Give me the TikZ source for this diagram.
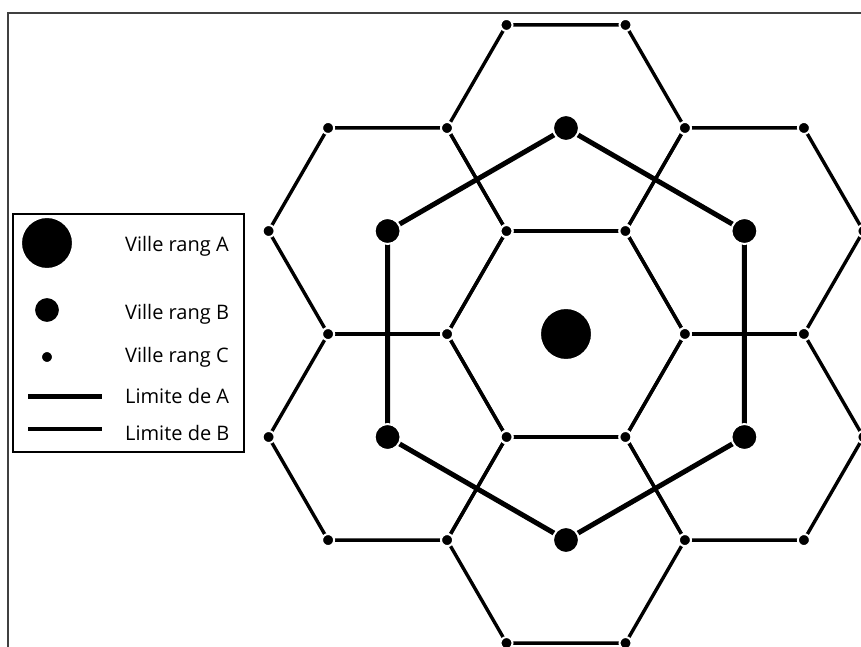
\documentclass[tikz,border=0pt]{standalone}
\usepackage{fontspec}
\setmainfont{Open Sans}
\usetikzlibrary{calc}

\tikzset{
  limiteA/.style={line width=5pt},
  limiteB/.style={line width=3.4pt},
  ville/.style={circle,fill=black,draw=white,line width=2pt,inner sep=0pt},
  villeA/.style={ville,minimum size=52pt},
  villeB/.style={ville,minimum size=26pt},
  villeC/.style={ville,minimum size=12pt},
  legende/.style={anchor=base west,inner sep=0pt},
}

\begin{document}
\begin{tikzpicture}[x=1pt,y=-1pt]
\useasboundingbox (0,0) rectangle (861,647);
\clip (0,0) rectangle (861,647);

% Cadre
\draw[line width=1.5pt,black!75] (8,13) rectangle (900,700);

% Centres des hexagones
\coordinate (c0) at (566,334);
\foreach \k in {1,...,6}
  \coordinate (c\k) at ($(c0)+({30+60*\k}:206)$);

% Sommets des hexagones
\foreach \k in {0,...,6}{
  \foreach \j in {0,...,5}
    \coordinate (h\k-\j) at ($(c\k)+({60*\j}:119)$);
}

% Limites de B
\foreach \k in {0,...,6}
  \draw[limiteB] (h\k-0) -- (h\k-1) -- (h\k-2) -- (h\k-3) -- (h\k-4) -- (h\k-5) -- cycle;

% Limite de A
\draw[limiteA] (c1) -- (c2) -- (c3) -- (c4) -- (c5) -- (c6) -- cycle;

% Villes rang C
\foreach \k in {0,...,6}{
  \foreach \j in {0,...,5}
    \node[villeC] (vc\k-\j) at (h\k-\j) {};
}

% Villes rang B
\foreach \k in {1,...,6}
  \node[villeB] (vb\k) at (c\k) {};

% Ville rang A
\node[villeA] (va) at (c0) {};

% Legende
\draw[line width=1.5pt,fill=white] (13,214) rectangle (244,452);
\node[villeA] (legA) at (47,243) {};
\node[villeB] (legB) at (47,310) {};
\node[villeC] (legC) at (47,357) {};
\coordinate (legA1) at (28,396);
\coordinate (legA2) at (102,396);
\coordinate (legB1) at (28,429);
\coordinate (legB2) at (102,429);
\draw[limiteA] (legA1) -- (legA2);
\draw[limiteB] (legB1) -- (legB2);

\begin{scope}[every node/.append style={font=\fontsize{20}{24}\selectfont}]
\node[legende] (txtA) at (125,251) {Ville rang A};
\node[legende] (txtB) at (125,319) {Ville rang B};
\node[legende] (txtC) at (125,362) {Ville rang C};
\node[legende] (txtLA) at (125,403) {Limite de A};
\node[legende] (txtLB) at (125,440) {Limite de B};
\end{scope}

\end{tikzpicture}
\end{document}
